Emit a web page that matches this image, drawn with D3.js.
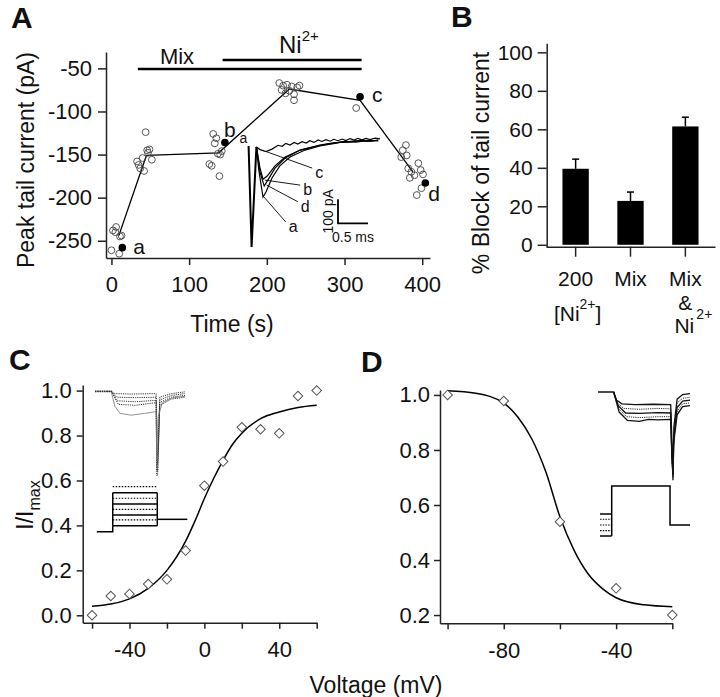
<!DOCTYPE html>
<html>
<head>
<meta charset="utf-8">
<script src="https://cdn.jsdelivr.net/npm/d3@7"></script>
<style>
  body { margin: 0; background: #fff; }
  svg { display: block; }
  text { font-family: "Liberation Sans", Arial, sans-serif; fill: #111; }
</style>
</head>
<body>
<svg id="fig" width="720" height="697"></svg>
<script>

// ---------- panel A data (time in s, peak tail current in pA)
var aOpen = [
  [0,-261],[2,-238],[5,-240],[6,-234],[10,-265],[11,-245],[13,-244],
  [33,-158],[35,-162],[37,-166],[40,-154],[42,-169],[44,-124],[46,-145],[47,-148],[49,-144],[52,-156],
  [126,-161],[129,-163],[131,-126],[133,-137],[135,-131],[137,-149],[139,-175],[140,-150],[142,-146],
  [216,-67],[219,-75],[221,-70],[224,-79],[226,-69],[229,-76],[232,-71],[235,-80],[235,-87],[239,-72],[242,-70],
  [315,-96],
  [373,-153],[375,-145],[379,-139],[380,-151],[382,-166],[384,-177],[386,-170],[390,-174],[393,-197],[395,-160],[398,-168],[399,-189],[401,-173]
];
var aFilled = [[14,-258],[146,-136],[320,-83],[404,-183]];
var aFilledNames = ["a","b","c","d"];
var aMean = [[9.5,-244],[45,-151],[138,-148],[229,-74],[320,-87],[388,-170]];
var aXTicks = [0,100,200,300,400];
var aYTicks = [-250,-200,-150,-100,-50];
var mixPeriod = [34,322];
var niPeriod = [143,322];

// inset of panel A: tail current traces (ms, pA)
var spike = [[0.01,-25],[0.06,-446],[0.14,-29]];
var traceA = [[0.14,-29],[0.18,-125],[0.25,-238],[0.30,-217],[0.40,-158],[0.53,-108],[0.70,-71],[0.95,-42],[1.20,-25],[1.40,-16],[1.53,-10],[1.70,-9],[1.87,-3],[2.05,-5],[2.17,0]];
var traceB = [[0.14,-29],[0.20,-117],[0.25,-163],[0.32,-150],[0.45,-108],[0.62,-71],[0.87,-42],[1.20,-22],[1.40,-14],[1.62,-6],[1.80,-9],[2.00,-2],[2.17,-4]];
var traceD = [[0.14,-29],[0.20,-133],[0.27,-192],[0.33,-167],[0.45,-117],[0.62,-75],[0.87,-42],[1.20,-21],[1.40,-13],[1.62,-8],[1.85,-2],[2.00,-6],[2.17,-1]];
var traceC = [[0.14,-29],[0.20,-40],[0.30,-48],[0.40,-38],[0.50,-22],[0.57,-26],[0.63,-14],[0.70,-21],[0.77,-10],[0.83,-17],[0.90,-7],[0.97,-13],[1.03,-3],[1.10,-10],[1.17,0],[1.23,-6],[1.30,1],[1.37,-5],[1.43,3],[1.50,-3],[1.57,4],[1.63,-2],[1.70,6],[1.77,0],[1.83,7],[1.90,1],[1.97,7],[2.03,2],[2.12,8],[2.20,5]];
// leader lines: [from, to, label]
var insetLeaders = [
  [[0.31,-49],[1.07,-117],"c"],
  [[0.28,-167],[0.87,-188],"b"],
  [[0.31,-188],[0.83,-257],"d"],
  [[0.26,-236],[0.63,-342],"a"]
];
var scaleBarMs = 0.5, scaleBarPA = 100;

// ---------- panel B data (% block of tail current)
var bCats = ["200 [Ni]", "Mix", "Mix & Ni"];
var bVals = [39.5, 22.8, 61.5];
var bErr = [5.0, 4.6, 4.8];
var bYTicks = [0,20,40,60,80,100];

// ---------- panel C data (activation)
var cVolt = [-60,-50,-40,-30,-20,-10,0,10,20,30,40,50,60];
var cNorm = [0.0,0.086,0.095,0.139,0.16,0.288,0.577,0.684,0.837,0.828,0.81,0.976,1.0];
var cFitV = [-60,-50,-40,-30,-20,-10,-5,0,5,10,15,20,30,40,50,60];
var cFitI = [0.04,0.05,0.073,0.12,0.2,0.33,0.42,0.52,0.61,0.69,0.76,0.81,0.875,0.905,0.925,0.935];
var cXTicks = [-60,-40,-20,0,20,40,60];
var cXLabels = [-40,0,40];
var cYTicks = [0,0.2,0.4,0.6,0.8,1.0];

// ---------- panel D data (inactivation)
var dVolt = [-100,-80,-60,-40,-20];
var dNorm = [1.0,0.978,0.539,0.297,0.2];
var dFitV = [-100,-90,-80,-75,-70,-65,-60,-55,-50,-45,-40,-30,-20];
var dFitI = [1.015,1.006,0.97,0.92,0.84,0.72,0.557,0.436,0.35,0.297,0.263,0.237,0.23];
var dXTicks = [-100,-80,-60,-40,-20];
var dXLabels = [-80,-40];
var dYTicks = [0.2,0.4,0.6,0.8,1.0];

// ---------- insets of C and D, in arbitrary 0-100 box units
var cCurTraces = [
  {dash: true,  pts: [[0,1.5],[18,1.5],[22,4],[40,4.5],[68,4],[68.6,72],[69.6,72],[72,8],[85,4],[100,2]]},
  {dash: true,  pts: [[18,1.5],[24,8],[45,8.5],[68,8],[68.6,82],[69.6,82],[72,11],[85,6],[100,4]]},
  {dash: true,  pts: [[18,1.5],[25,12],[45,13],[68,11.5],[68.6,90],[69.6,90],[72,14],[85,8],[100,6]]},
  {dash: true,  pts: [[18,1.5],[26,16],[45,17],[68,14],[68.6,95],[69.6,95],[72,17],[85,10],[100,8]]},
  {dash: false, pts: [[18,1.5],[22,18],[28,26],[40,28],[55,26],[68,24],[68.6,78],[70,30],[75,14],[85,9],[100,7]]}
];
var cCurBase = [[0,1.5],[19,1.5]];
var cStepLevels = [107.4,114.1,120.3,126.7,132.6,138.9,144.4,150.8];
var cStepSolid = [false,true,false,true,false,true,false,true];
var cHold = [[2,157.4],[19.7,157.4],[19.7,150.8]];
var cStepX = [19.7,69.2];
var cTail = [[69.2,143.7],[102.6,143.7]];

var dCurTraces = [
  {dash: false, pts: [[0,2.2],[17,2.2],[20,11],[26,15],[40,16],[60,15.5],[79,16],[80.5,60],[81.5,98],[82.5,40],[86,10],[92,5],[100,4]]},
  {dash: true,  pts: [[17,2.2],[21,14],[28,20],[45,21],[65,20],[79,20.5],[80.5,70],[81.5,95],[82.5,45],[86,14],[92,9],[100,8]]},
  {dash: false, pts: [[17,2.2],[22,17],[30,25],[45,25.5],[65,24.5],[79,25],[80.5,80],[81.5,92],[82.5,52],[86,19],[92,12],[100,11]]},
  {dash: true,  pts: [[17,2.2],[23,21],[31,29],[45,30],[65,29],[79,29],[80.5,80],[82,55],[86,23],[92,15],[100,14]]},
  {dash: false, pts: [[17,2.2],[23,24],[32,33],[45,34],[55,32],[65,32.5],[79,32],[80.5,75],[82,60],[86,27],[92,18],[100,17]]}
];
var dPreLevels = [134.8,140.5,146.7,152.9,158.7];
var dPreSolid = [true,false,false,false,true];
var dPreX = [2.2,14.9];
var dStep = [[14.9,158.7],[14.9,104.3],[78.3,104.3],[78.3,146.7],[100,146.7]];

// ---------- drawing
var svg = d3.select("#fig");
var FONT = '"Liberation Sans", Arial, sans-serif';
var AXIS_COL = "#222";

// plain hyphen minus, like the original figure
function plain(d) { return String(d); }

function styleAxis(g, size) {
  g.attr("font-size", size).attr("font-family", FONT);
  g.selectAll("path, line").attr("stroke", AXIS_COL).attr("stroke-width", 1.5);
  g.selectAll("text").attr("fill", "#111");
}

function panelLetter(txt, x, y) {
  svg.append("text").attr("x", x).attr("y", y)
    .attr("font-size", 30).attr("font-weight", "bold").text(txt);
}

// ===== Panel A =====
var ax = d3.scaleLinear().domain([-7, 410]).range([106, 430]);
var ay = d3.scaleLinear().domain([-270, -31]).range([258, 52]);

var gA = svg.append("g");
styleAxis(gA.append("g").attr("transform", "translate(0,258)")
  .call(d3.axisBottom(ax).tickValues(aXTicks).tickSize(7).tickPadding(11).tickSizeOuter(0).tickFormat(plain)), 22);
styleAxis(gA.append("g").attr("transform", "translate(106,0)")
  .call(d3.axisLeft(ay).tickValues(aYTicks).tickSize(8).tickPadding(6).tickSizeOuter(0).tickFormat(plain)), 22);

gA.append("text").attr("transform", "translate(34," + 160 + ") rotate(-90)")
  .attr("text-anchor", "middle").attr("font-size", 23).text("Peak tail current (pA)");
gA.append("text").attr("x", 232).attr("y", 332)
  .attr("text-anchor", "middle").attr("font-size", 23).text("Time (s)");

// treatment bars
gA.append("line").attr("x1", ax(mixPeriod[0])).attr("x2", ax(mixPeriod[1]))
  .attr("y1", 69).attr("y2", 69).attr("stroke", "#000").attr("stroke-width", 2.5);
gA.append("line").attr("x1", ax(niPeriod[0])).attr("x2", ax(niPeriod[1]))
  .attr("y1", 60).attr("y2", 60).attr("stroke", "#000").attr("stroke-width", 2.5);
gA.append("text").attr("x", 177).attr("y", 64).attr("text-anchor", "middle")
  .attr("font-size", 22).text("Mix");
var niT = gA.append("text").attr("x", 279).attr("y", 53).attr("font-size", 24);
niT.append("tspan").text("Ni");
niT.append("tspan").attr("dy", -12).attr("font-size", 15).text("2+");

// mean line
var aLine = d3.line().x(function(d){ return ax(d[0]); }).y(function(d){ return ay(d[1]); });
gA.append("path").datum(aMean).attr("d", aLine)
  .attr("fill", "none").attr("stroke", "#000").attr("stroke-width", 1.3);

// open circles
gA.selectAll("circle.open").data(aOpen).enter().append("circle")
  .attr("class", "open")
  .attr("cx", function(d){ return ax(d[0]); })
  .attr("cy", function(d){ return ay(d[1]); })
  .attr("r", 3.4).attr("fill", "none").attr("stroke", "#444").attr("stroke-width", 0.9);

// filled circles with letters
gA.selectAll("circle.fill").data(aFilled).enter().append("circle")
  .attr("class", "fill")
  .attr("cx", function(d){ return ax(d[0]); })
  .attr("cy", function(d){ return ay(d[1]); })
  .attr("r", 3.8).attr("fill", "#000");
var letterOff = [[11, 6], [-1, -6], [12, 5], [3, 18]];
gA.selectAll("text.pt").data(aFilled).enter().append("text")
  .attr("class", "pt")
  .attr("x", function(d, i){ return ax(d[0]) + letterOff[i][0]; })
  .attr("y", function(d, i){ return ay(d[1]) + letterOff[i][1]; })
  .attr("font-size", 21)
  .text(function(d, i){ return aFilledNames[i]; });

// inset traces
var ix = d3.scaleLinear().domain([0, 1]).range([248, 308]);
var iy = d3.scaleLinear().domain([0, -100]).range([140, 164]);
var iLine = d3.line().x(function(d){ return ix(d[0]); }).y(function(d){ return iy(d[1]); });
var gI = gA.append("g");
[traceA, traceB, traceD, traceC].forEach(function(t){
  gI.append("path").datum(t).attr("d", iLine)
    .attr("fill", "none").attr("stroke", "#000").attr("stroke-width", 1.2);
});
gI.append("path").datum(spike).attr("d", iLine)
  .attr("fill", "none").attr("stroke", "#000").attr("stroke-width", 2);
gI.append("text").attr("x", ix(-0.01)).attr("y", iy(-12)).attr("font-size", 14)
  .attr("text-anchor", "end").text("a");
insetLeaders.forEach(function(l){
  gI.append("line").attr("x1", ix(l[0][0])).attr("y1", iy(l[0][1]))
    .attr("x2", ix(l[1][0])).attr("y2", iy(l[1][1]))
    .attr("stroke", "#000").attr("stroke-width", 0.9);
  gI.append("text").attr("x", ix(l[1][0]) + 3).attr("y", iy(l[1][1]) + 10)
    .attr("font-size", 16).text(l[2]);
});
// scale bar
var sbX = 1.5, sbY = -247;
gI.append("path")
  .attr("d", "M" + ix(sbX) + "," + iy(sbY) + "V" + iy(sbY - scaleBarPA) + "H" + ix(sbX + scaleBarMs))
  .attr("fill", "none").attr("stroke", "#000").attr("stroke-width", 1.8);
gI.append("text")
  .attr("transform", "translate(" + (ix(sbX) - 5) + "," + iy(sbY - scaleBarPA / 2) + ") rotate(-90)")
  .attr("text-anchor", "middle").attr("font-size", 14).text("100 pA");
gI.append("text").attr("x", ix(sbX + scaleBarMs / 2)).attr("y", iy(sbY - scaleBarPA) + 19)
  .attr("text-anchor", "middle").attr("font-size", 14).text("0.5 ms");

panelLetter("A", 11, 28);

// ===== Panel B =====
var bx = d3.scaleBand().domain(bCats).range([546, 715]).paddingInner(0.52).paddingOuter(0.3);
var by = d3.scaleLinear().domain([-1, 104.7]).range([246.7, 43.3]);
var gB = svg.append("g");

gB.selectAll("line.err").data(bVals).enter().append("line")
  .attr("class", "err")
  .attr("x1", function(d, i){ return bx(bCats[i]) + bx.bandwidth() / 2; })
  .attr("x2", function(d, i){ return bx(bCats[i]) + bx.bandwidth() / 2; })
  .attr("y1", function(d){ return by(d); })
  .attr("y2", function(d, i){ return by(d + bErr[i]); })
  .attr("stroke", "#000").attr("stroke-width", 1.5);
gB.selectAll("line.cap").data(bVals).enter().append("line")
  .attr("class", "cap")
  .attr("x1", function(d, i){ return bx(bCats[i]) + bx.bandwidth() / 2 - 3.5; })
  .attr("x2", function(d, i){ return bx(bCats[i]) + bx.bandwidth() / 2 + 3.5; })
  .attr("y1", function(d, i){ return by(d + bErr[i]); })
  .attr("y2", function(d, i){ return by(d + bErr[i]); })
  .attr("stroke", "#000").attr("stroke-width", 1.5);
gB.selectAll("rect").data(bVals).enter().append("rect")
  .attr("x", function(d, i){ return bx(bCats[i]); })
  .attr("width", bx.bandwidth())
  .attr("y", function(d){ return by(d); })
  .attr("height", function(d){ return by(0) - by(d); })
  .attr("fill", "#000");

var bAxX = gB.append("g").attr("transform", "translate(0,246.7)")
  .call(d3.axisBottom(bx).tickSize(10).tickSizeOuter(0).tickFormat(""));
styleAxis(bAxX, 22);
styleAxis(gB.append("g").attr("transform", "translate(546.7,0)")
  .call(d3.axisLeft(by).tickValues(bYTicks).tickSize(9).tickPadding(5).tickSizeOuter(0).tickFormat(plain)), 21);

gB.append("text").attr("transform", "translate(489,163) rotate(-90)")
  .attr("text-anchor", "middle").attr("font-size", 23).text("% Block of tail current");

// category labels
var c0 = bx(bCats[0]) + bx.bandwidth() / 2,
    c1 = bx(bCats[1]) + bx.bandwidth() / 2,
    c2 = bx(bCats[2]) + bx.bandwidth() / 2;
gB.append("text").attr("x", c0).attr("y", 286).attr("text-anchor", "middle").attr("font-size", 21).text("200");
var t0 = gB.append("text").attr("x", c0 + 2).attr("y", 321).attr("text-anchor", "middle").attr("font-size", 21);
t0.append("tspan").text("[Ni");
t0.append("tspan").attr("dy", -12).attr("font-size", 14).text("2+");
t0.append("tspan").attr("dy", 12).text("]");
gB.append("text").attr("x", c1).attr("y", 286).attr("text-anchor", "middle").attr("font-size", 21).text("Mix");
gB.append("text").attr("x", c2).attr("y", 286).attr("text-anchor", "middle").attr("font-size", 21).text("Mix");
gB.append("text").attr("x", c2).attr("y", 310).attr("text-anchor", "middle").attr("font-size", 21).text("&");
gB.append("text").attr("x", c2 + 11).attr("y", 319).attr("font-size", 14).text("2+");
gB.append("text").attr("x", c2 - 1).attr("y", 333).attr("text-anchor", "middle").attr("font-size", 21).text("Ni");

panelLetter("B", 451, 27);

// ===== Panel C =====
var cx = d3.scaleLinear().domain([-65, 60]).range([82.7, 316.7]);
var cy = d3.scaleLinear().domain([-0.033, 1.025]).range([622.7, 385]);
var gC = svg.append("g");
styleAxis(gC.append("g").attr("transform", "translate(0,622.7)")
  .call(d3.axisBottom(cx).tickValues(cXTicks).tickSize(6).tickPadding(13).tickSizeOuter(0)
    .tickFormat(function(d){ return cXLabels.indexOf(d) >= 0 ? String(d) : ""; })), 22);
styleAxis(gC.append("g").attr("transform", "translate(82.7,0)")
  .call(d3.axisLeft(cy).tickValues(cYTicks).tickSize(6).tickPadding(5).tickSizeOuter(0)
    .tickFormat(d3.format(".1f"))), 22);

var cLine = d3.line().curve(d3.curveMonotoneX)
  .x(function(d, i){ return cx(cFitV[i]); }).y(function(d){ return cy(d); });
gC.append("path").datum(cFitI).attr("d", cLine)
  .attr("fill", "none").attr("stroke", "#000").attr("stroke-width", 1.5);

var diamond = d3.symbol().type(d3.symbolSquare).size(46);
gC.selectAll("path.dm").data(cNorm).enter().append("path")
  .attr("class", "dm").attr("d", diamond)
  .attr("transform", function(d, i){ return "translate(" + cx(cVolt[i]) + "," + cy(d) + ") rotate(45)"; })
  .attr("fill", "#fff").attr("stroke", "#555").attr("stroke-width", 1);

// y label I/Imax
var cyl = gC.append("text").attr("transform", "translate(33,505) rotate(-90)")
  .attr("text-anchor", "middle").attr("font-size", 23);
cyl.append("tspan").text("I/I");
cyl.append("tspan").attr("dy", 7).attr("font-size", 16).text("max");

// inset C
var icx = d3.scaleLinear().domain([0, 100]).range([95, 185]);
var icy = d3.scaleLinear().domain([0, 100]).range([390, 480]);
var icLine = d3.line().x(function(d){ return icx(d[0]); }).y(function(d){ return icy(d[1]); });
cCurTraces.forEach(function(t){
  gC.append("path").datum(t.pts).attr("d", icLine).attr("fill", "none")
    .attr("stroke", t.dash ? "#333" : "#777").attr("stroke-width", t.dash ? 1 : 0.8)
    .attr("stroke-dasharray", t.dash ? "1.2,1" : null);
});
gC.append("path").datum(cCurBase).attr("d", icLine).attr("fill", "none")
  .attr("stroke", "#333").attr("stroke-width", 1.6).attr("stroke-dasharray", "1.5,0.8");
cStepLevels.forEach(function(lv, i){
  gC.append("line").attr("x1", icx(cStepX[0])).attr("x2", icx(cStepX[1]))
    .attr("y1", icy(lv)).attr("y2", icy(lv))
    .attr("stroke", "#000").attr("stroke-width", cStepSolid[i] ? 1.5 : 1.2)
    .attr("stroke-dasharray", cStepSolid[i] ? null : "1.5,1.5");
});
gC.append("path").datum(cHold).attr("d", icLine).attr("fill", "none").attr("stroke", "#000").attr("stroke-width", 1.5);
[cStepX[0], cStepX[1]].forEach(function(xv){
  gC.append("line").attr("x1", icx(xv)).attr("x2", icx(xv))
    .attr("y1", icy(cStepLevels[1])).attr("y2", icy(cStepLevels[7]))
    .attr("stroke", "#000").attr("stroke-width", 1.5);
});
gC.append("path").datum(cTail).attr("d", icLine).attr("fill", "none").attr("stroke", "#000").attr("stroke-width", 1.5);

panelLetter("C", 9, 370);

// ===== Panel D =====
var dx = d3.scaleLinear().domain([-102.7, -20]).range([440, 672.3]);
var dy = d3.scaleLinear().domain([0.17, 1.018]).range([623.3, 390]);
var gD = svg.append("g");
styleAxis(gD.append("g").attr("transform", "translate(0,623.3)")
  .call(d3.axisBottom(dx).tickValues(dXTicks).tickSize(6).tickPadding(13).tickSizeOuter(0)
    .tickFormat(function(d){ return dXLabels.indexOf(d) >= 0 ? String(d) : ""; })), 22);
styleAxis(gD.append("g").attr("transform", "translate(440,0)")
  .call(d3.axisLeft(dy).tickValues(dYTicks).tickSize(6).tickPadding(4).tickSizeOuter(0)
    .tickFormat(d3.format(".1f"))), 22);

var dLine = d3.line().curve(d3.curveMonotoneX)
  .x(function(d, i){ return dx(dFitV[i]); }).y(function(d){ return dy(d); });
gD.append("path").datum(dFitI).attr("d", dLine)
  .attr("fill", "none").attr("stroke", "#000").attr("stroke-width", 1.5);
gD.selectAll("path.dm").data(dNorm).enter().append("path")
  .attr("class", "dm").attr("d", diamond)
  .attr("transform", function(d, i){ return "translate(" + dx(dVolt[i]) + "," + dy(d) + ") rotate(45)"; })
  .attr("fill", "#fff").attr("stroke", "#555").attr("stroke-width", 1);

// inset D
var idx = d3.scaleLinear().domain([0, 100]).range([598, 690]);
var idy = d3.scaleLinear().domain([0, 100]).range([390, 482]);
var idLine = d3.line().x(function(d){ return idx(d[0]); }).y(function(d){ return idy(d[1]); });
dCurTraces.forEach(function(t){
  gD.append("path").datum(t.pts).attr("d", idLine).attr("fill", "none")
    .attr("stroke", "#111").attr("stroke-width", t.dash ? 0.9 : 1.3)
    .attr("stroke-dasharray", t.dash ? "1.2,1" : null);
});
dPreLevels.forEach(function(lv, i){
  gD.append("line").attr("x1", idx(dPreX[0])).attr("x2", idx(dPreX[1]))
    .attr("y1", idy(lv)).attr("y2", idy(lv))
    .attr("stroke", "#000").attr("stroke-width", dPreSolid[i] ? 1.5 : 1.1)
    .attr("stroke-dasharray", dPreSolid[i] ? null : "1.5,1.2");
});
gD.append("path").datum(dStep).attr("d", idLine).attr("fill", "none").attr("stroke", "#000").attr("stroke-width", 1.5);

panelLetter("D", 361, 372);

// shared x label
svg.append("text").attr("x", 376).attr("y", 693).attr("text-anchor", "middle")
  .attr("font-size", 23).text("Voltage (mV)");

</script>
</body>
</html>
